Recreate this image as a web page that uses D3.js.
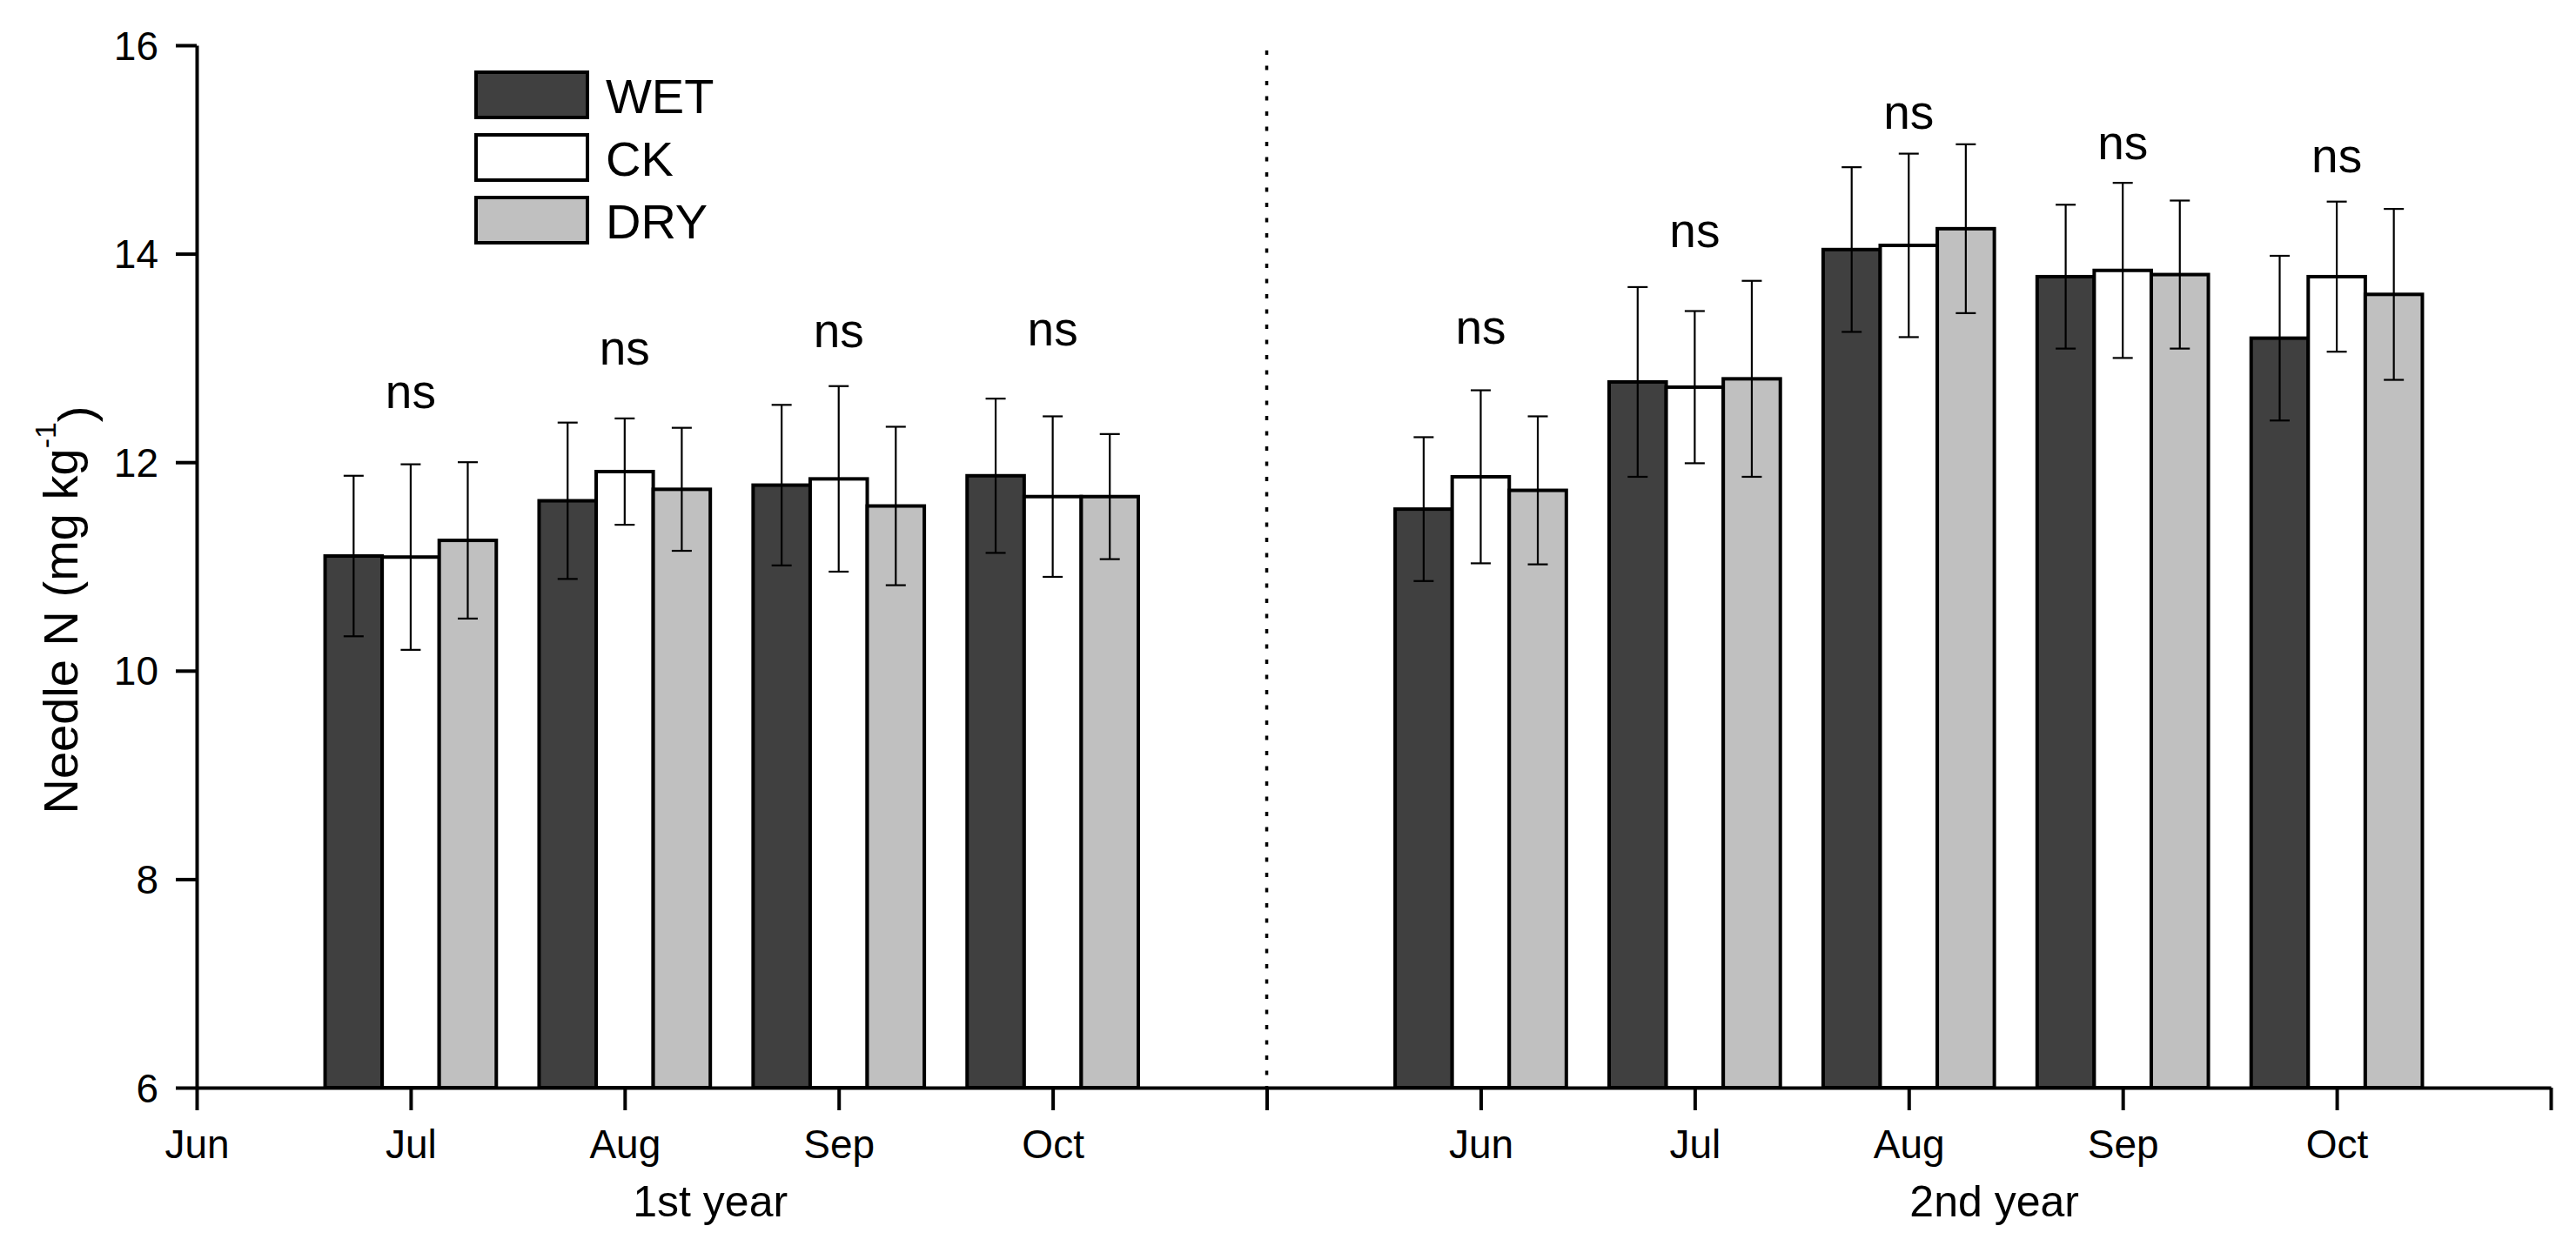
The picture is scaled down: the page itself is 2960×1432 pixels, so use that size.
<!DOCTYPE html>
<html>
<head>
<meta charset="utf-8">
<script src="https://cdn.jsdelivr.net/npm/d3@7"></script>
<style>
  body { margin: 0; background: #fff; }
  text { font-family: "Liberation Sans", Arial, sans-serif; fill: #000; }
</style>
</head>
<body>
<div class="root"></div>
<script>
const series = ['WET', 'CK', 'DRY'];
const colors = ['#404040', '#ffffff', '#c0c0c0'];
const xTickLabels = ['Jun', 'Jul', 'Aug', 'Sep', 'Oct', '', 'Jun', 'Jul', 'Aug', 'Sep', 'Oct', ''];
const yTicks = [6, 8, 10, 12, 14, 16];
const yearLabels = ['1st year', '2nd year'];

// 1st year (no June sample)
const year1Months = ['Jul', 'Aug', 'Sep', 'Oct'];
const year1WET = [11.10, 11.63, 11.78, 11.87];
const year1CK = [11.09, 11.91, 11.84, 11.67];
const year1DRY = [11.25, 11.74, 11.58, 11.67];
const year1WETerr = [0.77, 0.75, 0.77, 0.74];
const year1CKerr = [0.89, 0.51, 0.89, 0.77];
const year1DRYerr = [0.75, 0.59, 0.76, 0.60];
const year1Sig = ['ns', 'ns', 'ns', 'ns'];
const year1SigAt = [12.52, 12.94, 13.10, 13.12];

// 2nd year
const year2Months = ['Jun', 'Jul', 'Aug', 'Sep', 'Oct'];
const year2WET = [11.55, 12.77, 14.04, 13.78, 13.19];
const year2CK = [11.86, 12.72, 14.08, 13.84, 13.78];
const year2DRY = [11.73, 12.80, 14.24, 13.80, 13.61];
const year2WETerr = [0.69, 0.91, 0.79, 0.69, 0.79];
const year2CKerr = [0.83, 0.73, 0.88, 0.84, 0.72];
const year2DRYerr = [0.71, 0.94, 0.81, 0.71, 0.82];
const year2Sig = ['ns', 'ns', 'ns', 'ns', 'ns'];
const year2SigAt = [13.14, 14.06, 15.20, 14.91, 14.78];

const width = 2960;
const height = 1432;
const margin = { top: 52, left: 226, bottom: 182, right: 29 };

const svg = d3.select('.root')
  .append('svg')
  .attr('width', width)
  .attr('height', height);

svg.append('rect').attr('width', width).attr('height', height).attr('fill', '#fff');

const x = d3.scaleLinear()
  .domain([0, xTickLabels.length - 1])
  .range([margin.left, width - margin.right]);

const y = d3.scaleLinear()
  .domain([6, 16])
  .range([height - margin.bottom, margin.top]);

const step = x(1) - x(0);
const inner = d3.scaleBand()
  .domain(series)
  .range([-0.4 * step, 0.4 * step]);

// build groups: position on the x axis + values per series
const groups = [];
year1Months.forEach((m, i) => {
  groups.push({
    pos: xTickLabels.indexOf(m),
    values: [year1WET[i], year1CK[i], year1DRY[i]],
    errs: [year1WETerr[i], year1CKerr[i], year1DRYerr[i]],
    sig: year1Sig[i],
    sigAt: year1SigAt[i]
  });
});
year2Months.forEach((m, i) => {
  groups.push({
    pos: xTickLabels.lastIndexOf(m),
    values: [year2WET[i], year2CK[i], year2DRY[i]],
    errs: [year2WETerr[i], year2CKerr[i], year2DRYerr[i]],
    sig: year2Sig[i],
    sigAt: year2SigAt[i]
  });
});

// divider between the two years
const dividerPos = xTickLabels.indexOf('');
svg.append('line')
  .attr('x1', x(dividerPos)).attr('x2', x(dividerPos))
  .attr('y1', y(15.95)).attr('y2', y(6))
  .attr('stroke', '#000')
  .attr('stroke-width', 3.5)
  .attr('stroke-dasharray', '5,12.5');

const g = svg.selectAll('.grp')
  .data(groups)
  .enter()
  .append('g')
  .attr('class', 'grp')
  .attr('transform', d => `translate(${x(d.pos)}, 0)`);

g.selectAll('rect')
  .data(d => d.values.map((v, i) => ({ key: series[i], v, e: d.errs[i], c: colors[i] })))
  .enter()
  .append('rect')
  .attr('x', d => inner(d.key))
  .attr('width', inner.bandwidth())
  .attr('y', d => y(d.v))
  .attr('height', d => y(6) - y(d.v))
  .attr('fill', d => d.c)
  .attr('stroke', '#000')
  .attr('stroke-width', 4);

const err = g.selectAll('.err')
  .data(d => d.values.map((v, i) => ({ key: series[i], v, e: d.errs[i] })))
  .enter()
  .append('g')
  .attr('class', 'err')
  .attr('stroke', '#000')
  .attr('stroke-width', 2.2);

const cx = d => inner(d.key) + inner.bandwidth() / 2;
const cap = 11.5;

err.append('line')
  .attr('x1', cx).attr('x2', cx)
  .attr('y1', d => y(d.v - d.e)).attr('y2', d => y(d.v + d.e));
err.append('line')
  .attr('x1', d => cx(d) - cap).attr('x2', d => cx(d) + cap)
  .attr('y1', d => y(d.v + d.e)).attr('y2', d => y(d.v + d.e));
err.append('line')
  .attr('x1', d => cx(d) - cap).attr('x2', d => cx(d) + cap)
  .attr('y1', d => y(d.v - d.e)).attr('y2', d => y(d.v - d.e));

g.append('text')
  .attr('x', 0)
  .attr('y', d => y(d.sigAt))
  .attr('text-anchor', 'middle')
  .style('font-size', '55px')
  .text(d => d.sig);

// axes
const xAxis = svg.append('g')
  .attr('transform', `translate(0, ${y(6)})`)
  .call(d3.axisBottom(x)
    .tickValues(d3.range(xTickLabels.length))
    .tickFormat(i => xTickLabels[i])
    .tickSize(26)
    .tickSizeOuter(0)
    .tickPadding(22));

const yAxis = svg.append('g')
  .attr('transform', `translate(${x(0)}, 0)`)
  .call(d3.axisLeft(y)
    .tickValues(yTicks)
    .tickSize(24)
    .tickSizeOuter(0)
    .tickPadding(20));

[xAxis, yAxis].forEach(a => {
  a.select('.domain').attr('stroke', '#000').attr('stroke-width', 4);
  a.selectAll('.tick line').attr('stroke', '#000').attr('stroke-width', 4);
  a.selectAll('.tick text')
    .attr('fill', '#000')
    .style('font-family', '"Liberation Sans", Arial, sans-serif')
    .style('font-size', '46px');
});
yAxis.selectAll('.tick text').attr('dy', '0.35em');

// year labels under the axis
yearLabels.forEach((t, i) => {
  svg.append('text')
    .attr('x', x(xTickLabels.indexOf('Aug') + i * (dividerPos + 1) + 0.4))
    .attr('y', 1398)
    .attr('text-anchor', 'middle')
    .style('font-size', '50px')
    .text(t);
});

// y title
const title = svg.append('text')
  .attr('transform', `translate(89, 701) rotate(-90)`)
  .attr('text-anchor', 'middle')
  .style('font-size', '56px');
title.append('tspan').text('Needle N (mg kg');
title.append('tspan').attr('dy', '-0.75em').style('font-size', '34px').text('-1');
title.append('tspan').attr('dy', '0.75em').text(')');

// legend
const legend = svg.append('g')
  .attr('transform', 'translate(547, 83)');

const item = legend.selectAll('g')
  .data(series)
  .enter()
  .append('g')
  .attr('transform', (d, i) => `translate(0, ${i * 72})`);

item.append('rect')
  .attr('width', 128)
  .attr('height', 52)
  .attr('fill', (d, i) => colors[i])
  .attr('stroke', '#000')
  .attr('stroke-width', 4);

item.append('text')
  .attr('x', 149)
  .attr('y', 47)
  .style('font-size', '56px')
  .text(d => d);
</script>
</body>
</html>
